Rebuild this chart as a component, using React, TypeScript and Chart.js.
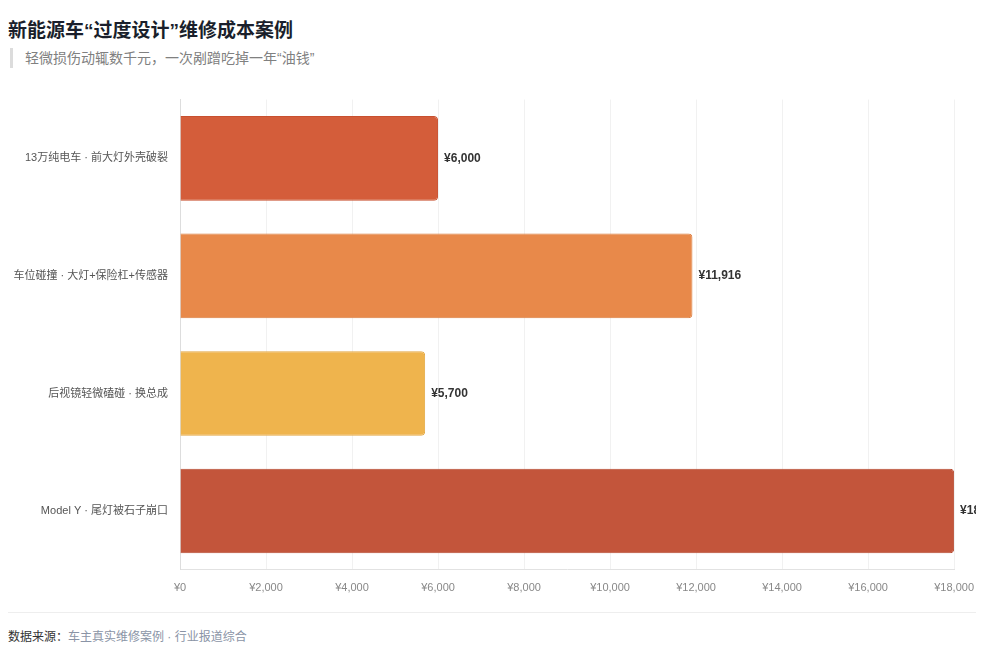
import React, { useEffect, useRef } from 'react';
import { Chart, registerables } from 'chart.js';

Chart.register(...registerables);

const categories = [
  '13万纯电车 · 前大灯外壳破裂',
  '车位碰撞 · 大灯+保险杠+传感器',
  '后视镜轻微磕碰 · 换总成',
  'Model Y · 尾灯被石子崩口',
];
const repairCost = [6000, 11916, 5700, 18000];
const barColors = ['#D45D3A', '#E8894A', '#EFB44D', '#C3553B'];
const barBorders = ['#C8502F', '#DC7D3F', '#E3A843', '#B64A31'];

const FONT = '"Liberation Sans", "Noto Sans CJK SC", sans-serif';

const fmt = (v: number) => '¥' + v.toLocaleString('en-US');

const valueLabels = {
  id: 'valueLabels',
  afterDatasetsDraw(chart: Chart) {
    const ctx = chart.ctx;
    const meta = chart.getDatasetMeta(0);
    ctx.save();
    ctx.font = `bold 12px ${FONT}`;
    ctx.fillStyle = '#333';
    ctx.textAlign = 'left';
    ctx.textBaseline = 'middle';
    meta.data.forEach((bar: any, i: number) => {
      ctx.fillText(fmt(repairCost[i]), bar.x + 6, bar.y);
    });
    ctx.restore();
  },
};

const App: React.FC = () => {
  const canvasRef = useRef<HTMLCanvasElement>(null);

  useEffect(() => {
    if (!canvasRef.current) return;
    const chart = new Chart(canvasRef.current, {
      type: 'bar',
      data: {
        labels: categories,
        datasets: [
          {
            data: repairCost,
            backgroundColor: barColors,
            borderColor: barBorders,
            borderWidth: 1,
            borderRadius: 4,
            borderSkipped: 'start',
            categoryPercentage: 0.9,
            barPercentage: 0.8,
          },
        ],
      },
      options: {
        indexAxis: 'y',
        animation: false,
        responsive: true,
        maintainAspectRatio: false,
        plugins: {
          legend: { display: false },
          tooltip: { enabled: false },
        },
        scales: {
          x: {
            min: 0,
            max: 18000,
            ticks: {
              stepSize: 2000,
              padding: 12,
              color: '#888',
              font: { family: FONT, size: 11 },
              callback: (v: any) => fmt(Number(v)),
            },
            grid: { color: '#f1f1f1', drawTicks: false },
            border: { color: '#e2e2e2' },
          },
          y: {
            ticks: {
              padding: 12,
              color: '#555',
              font: { family: FONT, size: 11 },
            },
            grid: { display: false, drawTicks: false },
            border: { color: '#dddddd' },
            afterFit: (scale: any) => {
              scale.width = 172;
            },
          },
        },
      },
      plugins: [valueLabels],
    });
    return () => chart.destroy();
  }, []);

  return (
    <div style={{ fontFamily: FONT, paddingTop: 10 }}>
      <div style={{ fontSize: 19, lineHeight: '26px', fontWeight: 'bold', color: '#1a1f2b' }}>
        新能源车“过度设计”维修成本案例
      </div>
      <div
        style={{
          marginTop: 4,
          marginLeft: 2,
          borderLeft: '3px solid #dcdcdc',
          paddingLeft: 12,
          fontSize: 14,
          lineHeight: '20px',
          color: '#808080',
        }}
      >
        轻微损伤动辄数千元，一次剐蹭吃掉一年“油钱”
      </div>
      {/* the reference cuts off the last value label at its right edge */}
      <div style={{ width: 968, overflow: 'hidden', marginTop: 13 }}>
        <div style={{ position: 'relative', width: 978, height: 526 }}>
          <canvas ref={canvasRef} />
        </div>
      </div>
      <div
        style={{
          width: 968,
          marginTop: 5,
          borderTop: '1px solid #eeeeee',
          paddingTop: 14,
          fontSize: 12,
          lineHeight: '20px',
          color: '#8a94a6',
        }}
      >
        <span style={{ color: '#333' }}>数据来源：</span>车主真实维修案例 · 行业报道综合
      </div>
    </div>
  );
};

export default App;
